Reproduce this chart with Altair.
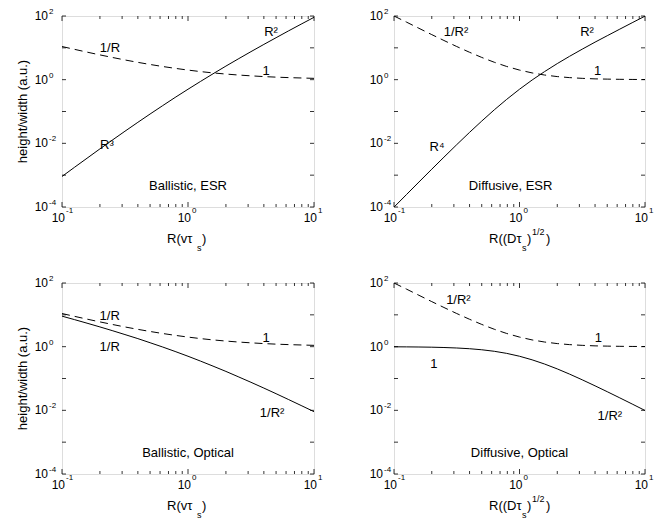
import altair as alt
import pandas as pd

FONT = "Liberation Sans"

# Sampled radius values (log-spaced)
R = [0.1, 0.126, 0.158, 0.2, 0.25, 0.316, 0.4, 0.5, 0.63, 0.79, 1.0,
     1.26, 1.58, 2.0, 2.5, 3.16, 4.0, 5.0, 6.3, 7.9, 10.0]

# Ballistic, ESR
bal_esr_solid = [0.00091, 0.00178, 0.0034, 0.0067, 0.0125, 0.024, 0.0457, 0.0833,
                 0.153, 0.276, 0.5, 0.885, 1.53, 2.67, 4.46, 7.59, 12.8, 20.8,
                 34.3, 55.4, 90.9]
bal_esr_dashed = [11.0, 8.94, 7.33, 6.0, 5.0, 4.16, 3.5, 3.0, 2.59, 2.27, 2.0,
                  1.79, 1.63, 1.5, 1.4, 1.32, 1.25, 1.2, 1.16, 1.13, 1.1]
# Diffusive, ESR
dif_esr_solid = [0.000099, 0.000248, 0.000608, 0.00154, 0.00368, 0.00907, 0.0221,
                 0.05, 0.113, 0.24, 0.5, 0.974, 1.78, 3.2, 5.39, 9.07, 15.1, 24.0,
                 38.7, 61.4, 99.0]
dif_esr_dashed = [100.0, 64.0, 41.1, 26.0, 17.0, 11.0, 7.25, 5.0, 3.52, 2.6, 2.0,
                  1.63, 1.4, 1.25, 1.16, 1.1, 1.06, 1.04, 1.025, 1.016, 1.01]
# Ballistic, Optical
bal_opt_solid = [9.09, 7.05, 5.47, 4.17, 3.2, 2.4, 1.79, 1.33, 0.974, 0.707, 0.5,
                 0.351, 0.245, 0.167, 0.114, 0.076, 0.05, 0.0333, 0.0217, 0.0142,
                 0.00909]
bal_opt_dashed = [11.0, 8.94, 7.33, 6.0, 5.0, 4.16, 3.5, 3.0, 2.59, 2.27, 2.0,
                  1.79, 1.63, 1.5, 1.4, 1.32, 1.25, 1.2, 1.16, 1.13, 1.1]
# Diffusive, Optical
dif_opt_solid = [0.99, 0.984, 0.976, 0.962, 0.941, 0.909, 0.862, 0.8, 0.716, 0.616,
                 0.5, 0.386, 0.286, 0.2, 0.138, 0.091, 0.0588, 0.0385, 0.0246,
                 0.0158, 0.0099]
dif_opt_dashed = [100.0, 64.0, 41.1, 26.0, 17.0, 11.0, 7.25, 5.0, 3.52, 2.6, 2.0,
                  1.63, 1.4, 1.25, 1.16, 1.1, 1.06, 1.04, 1.025, 1.016, 1.01]

# Annotation labels: text, R, value
bal_esr_notes = [("R²", 4.56, 31.6), ("1/R", 0.24, 10.0), ("1", 4.16, 1.9),
                 ("R³", 0.227, 0.009), ("Ballistic, ESR", 1.0, 0.00046)]
dif_esr_notes = [("1/R²", 0.312, 31.6), ("R²", 3.45, 31.6), ("1", 4.2, 1.9),
                 ("R⁴", 0.22, 0.0079), ("Diffusive, ESR", 0.85, 0.00046)]
bal_opt_notes = [("1/R", 0.239, 9.0), ("1/R", 0.239, 1.0), ("1", 4.17, 1.9),
                 ("1/R²", 4.65, 0.008), ("Ballistic, Optical", 1.0, 0.00046)]
dif_opt_notes = [("1/R²", 0.326, 30.0), ("1", 4.25, 1.9), ("1", 0.208, 0.28),
                 ("1/R²", 5.25, 0.0068), ("Diffusive, Optical", 1.0, 0.00046)]

# Ticks and tick labels
x_major = [0.1, 1.0, 10.0]
x_minor = [0.2, 0.3, 0.4, 0.5, 0.6, 0.7, 0.8, 0.9, 2, 3, 4, 5, 6, 7, 8, 9]
y_ticks = [1e-4, 1e-3, 1e-2, 1e-1, 1.0, 10.0, 100.0]
x_label_vals = [0.1, 1.0, 10.0]
x_label_exp = ["-1", "0", "1"]
y_label_vals = [1e-4, 1e-2, 1.0, 100.0]
y_label_exp = ["-4", "-2", "0", "2"]

W, H = 252, 191
XS = alt.Scale(type="log", domain=[0.1, 10], nice=False)
YS = alt.Scale(type="log", domain=[1e-4, 100], nice=False)


def X(field):
    return alt.X(field, type="quantitative", scale=XS, axis=None)


def Y(field):
    return alt.Y(field, type="quantitative", scale=YS, axis=None)


def txt(df, **kw):
    base = dict(font=FONT, color="black")
    base.update(kw)
    return alt.Chart(df).mark_text(**base)


def panel(solid, dashed, notes, ballistic, left_col, width):
    layers = []
    layers.append(alt.Chart(pd.DataFrame({"R": R, "v": solid}))
                  .mark_line(color="black", strokeWidth=1, clip=True)
                  .encode(x=X("R"), y=Y("v")))
    layers.append(alt.Chart(pd.DataFrame({"R": R, "v": dashed}))
                  .mark_line(color="black", strokeWidth=1, strokeDash=[8, 5], clip=True)
                  .encode(x=X("R"), y=Y("v")))
    nd = pd.DataFrame({"t": [n[0] for n in notes], "x": [n[1] for n in notes],
                       "y": [n[2] for n in notes]})
    layers.append(txt(nd, fontSize=13).encode(x=X("x"), y=Y("y"), text="t:N"))

    # inward ticks
    xmaj = pd.DataFrame({"x": x_major})
    xmin = pd.DataFrame({"x": x_minor})
    yt = pd.DataFrame({"y": y_ticks})
    for df, ln in ((xmaj, 5), (xmin, 3)):
        layers.append(alt.Chart(df).mark_rule(color="black", strokeWidth=0.8)
                      .encode(x=X("x"), y=alt.value(H), y2=alt.value(H - ln)))
        layers.append(alt.Chart(df).mark_rule(color="black", strokeWidth=0.8)
                      .encode(x=X("x"), y=alt.value(0), y2=alt.value(ln)))
    layers.append(alt.Chart(yt).mark_rule(color="black", strokeWidth=0.8)
                  .encode(y=Y("y"), x=alt.value(0), x2=alt.value(4)))
    layers.append(alt.Chart(yt).mark_rule(color="black", strokeWidth=0.8)
                  .encode(y=Y("y"), x=alt.value(width), x2=alt.value(width - 4)))

    # tick labels 10^n
    xl = pd.DataFrame({"x": x_label_vals, "b": ["10"] * 3, "e": x_label_exp})
    layers.append(txt(xl, fontSize=12, align="right", baseline="middle", dx=3)
                  .encode(x=X("x"), y=alt.value(H + 11), text="b:N"))
    layers.append(txt(xl, fontSize=8, align="left", baseline="middle", dx=4)
                  .encode(x=X("x"), y=alt.value(H + 4), text="e:N"))
    yl = pd.DataFrame({"y": y_label_vals, "b": ["10"] * 4, "e": y_label_exp})
    bx = -14 if left_col else -11
    layers.append(txt(yl, fontSize=12, align="right", baseline="middle")
                  .encode(y=Y("y"), x=alt.value(bx), text="b:N"))
    layers.append(txt(yl, fontSize=8, align="left", baseline="middle", dy=-4)
                  .encode(y=Y("y"), x=alt.value(bx + 1), text="e:N"))

    # x title with sub/superscripts
    if ballistic:
        parts = [("R(vτ", 105, 32, 13), ("s", 135, 41, 9), (")", 140, 32, 13)]
    else:
        parts = [("R((Dτ", 95, 32, 13), ("s", 128, 41, 9), (")", 133, 32, 13),
                 ("1/2", 138, 25, 9), (")", 152, 32, 13)]
    for t, px, py, fs in parts:
        layers.append(txt(pd.DataFrame({"t": [t]}), fontSize=fs, align="left",
                          baseline="middle")
                      .encode(x=alt.value(px), y=alt.value(H + py), text="t:N"))
    if left_col:
        layers.append(txt(pd.DataFrame({"t": ["height/width (a.u.)"]}), fontSize=13,
                          angle=270, align="center", baseline="middle")
                      .encode(x=alt.value(-39), y=alt.value(H / 2), text="t:N"))
    return alt.layer(*layers).properties(width=width, height=H)


p1 = panel(bal_esr_solid, bal_esr_dashed, bal_esr_notes, True, True, 252)
p2 = panel(dif_esr_solid, dif_esr_dashed, dif_esr_notes, False, False, 251)
p3 = panel(bal_opt_solid, bal_opt_dashed, bal_opt_notes, True, True, 252)
p4 = panel(dif_opt_solid, dif_opt_dashed, dif_opt_notes, False, False, 251)

chart = alt.concat(p1, p2, p3, p4, columns=2,
                   spacing={"row": 76, "column": 80}, bounds="flush").properties(
    padding={"left": 8, "top": -1, "right": 5, "bottom": 0}
).configure_view(stroke="black", strokeWidth=1.2).configure(background="white")

chart.save("out.html", embed_options={"renderer": "svg", "actions": False})
